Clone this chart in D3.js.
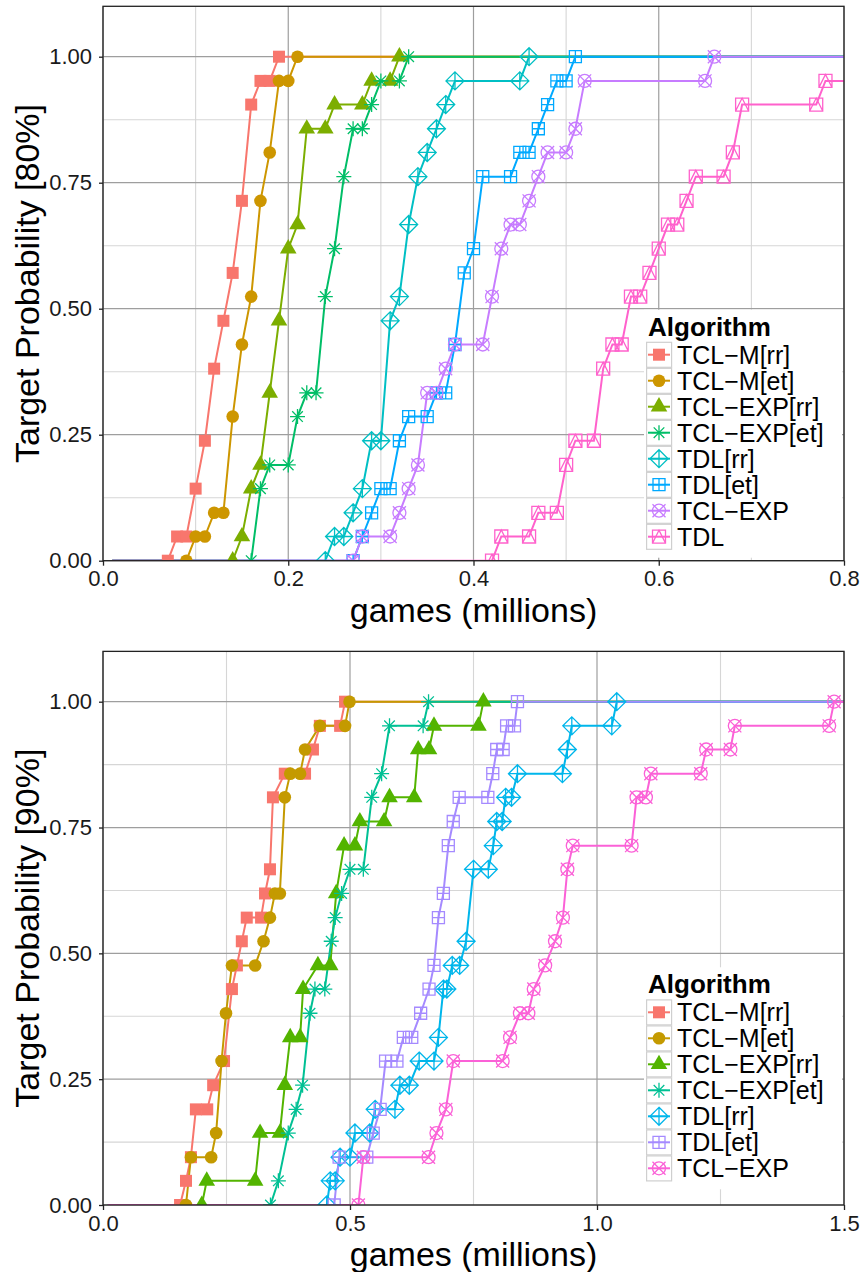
<!DOCTYPE html>
<html>
<head>
<meta charset="utf-8">
<script src="https://cdn.jsdelivr.net/npm/d3@7"></script>
<style>
  body { margin: 0; background: #fff; }
  svg { display: block; }
  text { font-family: 'Liberation Sans', Arial, Helvetica, sans-serif; }
</style>
</head>
<body>
<svg id="chart" width="864" height="1272"></svg>
<script>
// ---- top panel: target 80% (x = games in millions, y = target probability)
const topAlgorithms = ['TCL−M[rr]', 'TCL−M[et]', 'TCL−EXP[rr]', 'TCL−EXP[et]', 'TDL[rr]', 'TDL[et]', 'TCL−EXP', 'TDL'];
const topColors = ['#F8766D', '#CD9600', '#7CAE00', '#00BE67', '#00BFC4', '#00A9FF', '#C77CFF', '#FF61CC'];

const topTclmRr = [[0.07,0],[0.08,0.048],[0.09,0.048],[0.10,0.143],[0.11,0.238],[0.12,0.381],[0.13,0.476],[0.14,0.571],[0.15,0.714],[0.16,0.905],[0.17,0.952],[0.18,0.952],[0.19,1]];
const topTclmEt = [[0.09,0],[0.10,0.048],[0.11,0.048],[0.12,0.095],[0.13,0.095],[0.14,0.286],[0.15,0.429],[0.16,0.524],[0.17,0.714],[0.18,0.810],[0.19,0.952],[0.20,0.952],[0.21,1]];
const topTclexpRr = [[0.14,0],[0.15,0.048],[0.16,0.143],[0.17,0.190],[0.18,0.333],[0.19,0.476],[0.20,0.619],[0.21,0.667],[0.22,0.857],[0.24,0.857],[0.25,0.905],[0.28,0.905],[0.29,0.952],[0.31,0.952],[0.32,1]];
const topTclexpEt = [[0.16,0],[0.17,0.143],[0.18,0.190],[0.20,0.190],[0.21,0.286],[0.22,0.333],[0.23,0.333],[0.24,0.524],[0.25,0.619],[0.26,0.762],[0.27,0.857],[0.28,0.857],[0.29,0.905],[0.30,0.952],[0.32,0.952],[0.33,1]];
const topTdlRr = [[0.24,0],[0.25,0.048],[0.26,0.048],[0.27,0.095],[0.28,0.143],[0.29,0.238],[0.30,0.238],[0.31,0.476],[0.32,0.524],[0.33,0.667],[0.34,0.762],[0.35,0.810],[0.36,0.857],[0.37,0.905],[0.38,0.952],[0.45,0.952],[0.46,1]];
const topTdlEt = [[0.27,0],[0.28,0.048],[0.29,0.095],[0.30,0.143],[0.31,0.143],[0.32,0.238],[0.33,0.286],[0.35,0.286],[0.36,0.333],[0.37,0.333],[0.38,0.429],[0.39,0.571],[0.40,0.619],[0.41,0.762],[0.44,0.762],[0.45,0.810],[0.46,0.810],[0.47,0.857],[0.48,0.905],[0.49,0.952],[0.50,0.952],[0.51,1]];
const topTclexp = [[0.27,0],[0.28,0.048],[0.31,0.048],[0.32,0.095],[0.33,0.143],[0.34,0.190],[0.35,0.333],[0.36,0.333],[0.37,0.381],[0.38,0.429],[0.41,0.429],[0.42,0.524],[0.43,0.619],[0.44,0.667],[0.45,0.667],[0.46,0.714],[0.47,0.762],[0.48,0.810],[0.50,0.810],[0.51,0.857],[0.52,0.952],[0.65,0.952],[0.66,1]];
const topTdl = [[0.42,0],[0.43,0.048],[0.46,0.048],[0.47,0.095],[0.49,0.095],[0.50,0.190],[0.51,0.238],[0.53,0.238],[0.54,0.381],[0.55,0.429],[0.56,0.429],[0.57,0.524],[0.58,0.524],[0.59,0.571],[0.60,0.619],[0.61,0.667],[0.62,0.667],[0.63,0.714],[0.64,0.762],[0.67,0.762],[0.68,0.810],[0.69,0.905],[0.77,0.905],[0.78,0.952],[0.86,0.952],[0.87,1]];

const topXTicks = [0, 0.2, 0.4, 0.6, 0.8];
const topXMinor = [0.1, 0.3, 0.5, 0.7];

// ---- bottom panel: target 90%
const bottomAlgorithms = ['TCL−M[rr]', 'TCL−M[et]', 'TCL−EXP[rr]', 'TCL−EXP[et]', 'TDL[rr]', 'TDL[et]', 'TCL−EXP'];
const bottomColors = ['#F8766D', '#C49A00', '#53B400', '#00C094', '#00B6EB', '#A58AFF', '#FB61D7'];

const botTclmRr = [[0.156,0],[0.168,0.048],[0.178,0.095],[0.188,0.190],[0.211,0.190],[0.223,0.238],[0.245,0.286],[0.261,0.429],[0.271,0.476],[0.281,0.524],[0.291,0.571],[0.320,0.571],[0.328,0.619],[0.338,0.667],[0.344,0.810],[0.368,0.857],[0.409,0.857],[0.425,0.905],[0.439,0.952],[0.480,0.952],[0.490,1]];
const botTclmEt = [[0.168,0],[0.178,0.095],[0.219,0.095],[0.229,0.143],[0.240,0.286],[0.249,0.381],[0.261,0.476],[0.308,0.476],[0.325,0.524],[0.338,0.571],[0.348,0.619],[0.358,0.619],[0.368,0.810],[0.379,0.857],[0.399,0.857],[0.409,0.905],[0.439,0.952],[0.490,0.952],[0.499,1]];
const botTclexpRr = [[0.200,0],[0.210,0.048],[0.308,0.048],[0.318,0.143],[0.358,0.143],[0.368,0.238],[0.379,0.333],[0.399,0.333],[0.405,0.429],[0.435,0.476],[0.460,0.476],[0.472,0.619],[0.488,0.714],[0.510,0.714],[0.520,0.762],[0.569,0.762],[0.580,0.810],[0.630,0.810],[0.638,0.905],[0.660,0.905],[0.670,0.952],[0.760,0.952],[0.770,1]];
const botTclexpEt = [[0.339,0],[0.355,0.048],[0.375,0.143],[0.391,0.190],[0.404,0.238],[0.419,0.381],[0.429,0.429],[0.449,0.429],[0.462,0.524],[0.470,0.571],[0.483,0.619],[0.500,0.667],[0.527,0.667],[0.544,0.810],[0.564,0.857],[0.580,0.952],[0.648,0.952],[0.659,1]];
const botTdlRr = [[0.453,0],[0.460,0.048],[0.470,0.048],[0.480,0.095],[0.500,0.095],[0.510,0.143],[0.540,0.143],[0.551,0.190],[0.591,0.190],[0.601,0.238],[0.620,0.238],[0.640,0.286],[0.670,0.286],[0.679,0.333],[0.689,0.429],[0.696,0.429],[0.707,0.476],[0.722,0.476],[0.735,0.524],[0.750,0.667],[0.780,0.667],[0.790,0.714],[0.797,0.762],[0.808,0.762],[0.815,0.810],[0.827,0.810],[0.839,0.857],[0.930,0.857],[0.940,0.905],[0.949,0.952],[1.030,0.952],[1.040,1]];
const botTdlEt = [[0.468,0],[0.478,0.095],[0.534,0.095],[0.547,0.143],[0.561,0.190],[0.572,0.286],[0.595,0.286],[0.608,0.333],[0.625,0.333],[0.643,0.381],[0.660,0.429],[0.670,0.476],[0.679,0.571],[0.689,0.619],[0.699,0.714],[0.709,0.762],[0.721,0.810],[0.779,0.810],[0.789,0.857],[0.797,0.905],[0.810,0.905],[0.817,0.952],[0.833,0.952],[0.839,1]];
const botTclexp = [[0.517,0],[0.527,0.095],[0.659,0.095],[0.675,0.143],[0.694,0.190],[0.709,0.286],[0.809,0.286],[0.824,0.333],[0.844,0.381],[0.861,0.381],[0.872,0.429],[0.895,0.476],[0.915,0.524],[0.931,0.571],[0.940,0.667],[0.951,0.714],[1.070,0.714],[1.080,0.810],[1.099,0.810],[1.109,0.857],[1.210,0.857],[1.221,0.905],[1.270,0.905],[1.279,0.952],[1.470,0.952],[1.480,1]];

const bottomXTicks = [0, 0.5, 1.0, 1.5];
const bottomXMinor = [0.25, 0.75, 1.25];

const yTicks = [0, 0.25, 0.5, 0.75, 1];
const yMinor = [0.125, 0.375, 0.625, 0.875];
const shapes = ['square', 'circle', 'triangle', 'asterisk', 'diamondPlus', 'squarePlus', 'circleCross', 'squareTriangle'];

// lines start a bit right of zero and run off the panel at 1.0
const lineStartX = 0.01;

const svg = d3.select('#chart');
const FONT_TICK = 22;
const FONT_TITLE = 34;
const FONT_LEGEND = 25;

function drawShape(g, shape, color) {
  const sw = 1.3;
  switch (shape) {
    case 'square':
      g.append('rect').attr('x', -6).attr('y', -6).attr('width', 12).attr('height', 12).attr('fill', color);
      break;
    case 'circle':
      g.append('circle').attr('r', 6.3).attr('fill', color);
      break;
    case 'triangle':
      g.append('path').attr('d', 'M0,-9.6L8.3,4.8L-8.3,4.8Z').attr('fill', color);
      break;
    case 'asterisk':
      g.append('path').attr('d', 'M-7.5,0H7.5M0,-7.5V7.5M-5.3,-5.3L5.3,5.3M-5.3,5.3L5.3,-5.3')
        .attr('fill', 'none').attr('stroke', color).attr('stroke-width', sw);
      break;
    case 'diamondPlus':
      g.append('path').attr('d', 'M0,-9L9,0L0,9L-9,0ZM-9,0H9M0,-9V9')
        .attr('fill', 'none').attr('stroke', color).attr('stroke-width', sw);
      break;
    case 'squarePlus':
      g.append('path').attr('d', 'M-6,-6H6V6H-6ZM-6,0H6M0,-6V6')
        .attr('fill', 'none').attr('stroke', color).attr('stroke-width', sw);
      break;
    case 'circleCross':
      g.append('circle').attr('r', 6.5).attr('fill', 'none').attr('stroke', color).attr('stroke-width', sw);
      g.append('path').attr('d', 'M-6.5,-6.5L6.5,6.5M-6.5,6.5L6.5,-6.5')
        .attr('fill', 'none').attr('stroke', color).attr('stroke-width', sw);
      break;
    case 'squareTriangle':
      g.append('path').attr('d', 'M-6.5,-6.5H6.5V6.5H-6.5ZM-6.5,6.5L0,-6.5L6.5,6.5')
        .attr('fill', 'none').attr('stroke', color).attr('stroke-width', sw);
      break;
  }
}

function drawPanel(cfg) {
  const left = 103, right = 844;
  const x = d3.scaleLinear().domain([0, cfg.xMax]).range([left, right]);
  const y = d3.scaleLinear().domain([0, 1.1]).range([cfg.y0, cfg.y0 - 1.1 * cfg.unit]);
  const top = y(1.1), bottom = y(0);

  const panel = svg.append('g');
  panel.append('rect').attr('x', left).attr('y', top).attr('width', right - left).attr('height', bottom - top).attr('fill', '#fff');

  // grid
  panel.selectAll('.gminx').data(cfg.xMinor).enter().append('line')
    .attr('x1', d => x(d)).attr('x2', d => x(d)).attr('y1', top).attr('y2', bottom)
    .attr('stroke', '#d6d6d6').attr('stroke-width', 1.1);
  panel.selectAll('.gminy').data(yMinor).enter().append('line')
    .attr('x1', left).attr('x2', right).attr('y1', d => y(d)).attr('y2', d => y(d))
    .attr('stroke', '#d6d6d6').attr('stroke-width', 1.1);
  panel.selectAll('.gmajx').data(cfg.xTicks).enter().append('line')
    .attr('x1', d => x(d)).attr('x2', d => x(d)).attr('y1', top).attr('y2', bottom)
    .attr('stroke', '#9e9e9e').attr('stroke-width', 1.2);
  panel.selectAll('.gmajy').data(yTicks).enter().append('line')
    .attr('x1', left).attr('x2', right).attr('y1', d => y(d)).attr('y2', d => y(d))
    .attr('stroke', '#9e9e9e').attr('stroke-width', 1.2);

  const clipId = 'clip-' + cfg.id;
  svg.append('clipPath').attr('id', clipId).append('rect')
    .attr('x', left).attr('y', top).attr('width', right - left).attr('height', bottom - top);
  const plot = panel.append('g').attr('clip-path', `url(#${clipId})`);

  const line = d3.line().x(d => x(d[0])).y(d => y(d[1]));
  cfg.series.forEach((s, i) => {
    const path = [[lineStartX, 0], ...s, [cfg.xMax + 0.2, 1]];
    plot.append('path').attr('d', line(path)).attr('fill', 'none')
      .attr('stroke', cfg.colors[i]).attr('stroke-width', 2);
  });
  cfg.series.forEach((s, i) => {
    plot.selectAll(null).data(s).enter().append('g')
      .attr('transform', d => `translate(${x(d[0])},${y(d[1])})`)
      .each(function () { drawShape(d3.select(this), shapes[i], cfg.colors[i]); });
  });

  // legend
  const lg = panel.append('g');
  lg.append('rect').attr('x', 644).attr('y', cfg.legendTop - 32).attr('width', 198)
    .attr('height', cfg.algorithms.length * 26 + 40).attr('fill', '#fff');
  lg.append('text').attr('x', 648).attr('y', cfg.legendTop - 6).attr('font-size', 26)
    .attr('font-weight', 'bold').attr('fill', '#000').text('Algorithm');
  const rows = lg.selectAll('.row').data(cfg.algorithms).enter().append('g')
    .attr('transform', (d, i) => `translate(646,${cfg.legendTop + i * 26})`);
  rows.append('rect').attr('x', 0.6).attr('y', 0.6).attr('width', 25).attr('height', 25)
    .attr('fill', '#fff').attr('stroke', '#cfcfcf').attr('stroke-width', 1.2);
  rows.append('line').attr('x1', 2).attr('x2', 24).attr('y1', 13).attr('y2', 13)
    .attr('stroke', (d, i) => cfg.colors[i]).attr('stroke-width', 2);
  rows.append('g').attr('transform', 'translate(13,13)')
    .each(function (d, i) { drawShape(d3.select(this), shapes[i], cfg.colors[i]); });
  rows.append('text').attr('x', 31).attr('y', 22).attr('font-size', FONT_LEGEND)
    .attr('fill', '#000').text(d => d);

  // border
  panel.append('rect').attr('x', left).attr('y', top).attr('width', right - left).attr('height', bottom - top)
    .attr('fill', 'none').attr('stroke', '#222').attr('stroke-width', 1.3);

  // axes
  const xAxis = panel.append('g').attr('transform', `translate(0,${bottom})`)
    .call(d3.axisBottom(x).tickValues(cfg.xTicks).tickFormat(d3.format('.1f')).tickSize(5).tickPadding(5));
  const yAxis = panel.append('g').attr('transform', `translate(${left},0)`)
    .call(d3.axisLeft(y).tickValues(yTicks).tickFormat(d3.format('.2f')).tickSize(4).tickPadding(7));
  [xAxis, yAxis].forEach(a => {
    a.select('.domain').remove();
    a.selectAll('.tick line').attr('stroke', '#222').attr('stroke-width', 1.3);
    a.selectAll('.tick text').attr('font-size', FONT_TICK).attr('fill', '#1a1a1a')
      .attr('font-family', "'Liberation Sans', Arial, sans-serif");
  });

  panel.append('text').attr('x', (left + right) / 2).attr('y', bottom + 61)
    .attr('text-anchor', 'middle').attr('font-size', FONT_TITLE).attr('fill', '#000')
    .text('games (millions)');
  panel.append('text').attr('transform', `translate(39,${(top + bottom) / 2}) rotate(-90)`)
    .attr('text-anchor', 'middle').attr('font-size', FONT_TITLE).attr('fill', '#000')
    .text(cfg.yTitle);
}

drawPanel({
  id: 'top', y0: 560.7, unit: 504, xMax: 0.8,
  xTicks: topXTicks, xMinor: topXMinor,
  yTitle: 'Target Probability [80%]',
  algorithms: topAlgorithms, colors: topColors,
  series: [topTclmRr, topTclmEt, topTclexpRr, topTclexpEt, topTdlRr, topTdlEt, topTclexp, topTdl],
  legendTop: 341.7
});

drawPanel({
  id: 'bottom', y0: 1205, unit: 503.3, xMax: 1.5,
  xTicks: bottomXTicks, xMinor: bottomXMinor,
  yTitle: 'Target Probability [90%]',
  algorithms: bottomAlgorithms, colors: bottomColors,
  series: [botTclmRr, botTclmEt, botTclexpRr, botTclexpEt, botTdlRr, botTdlEt, botTclexp],
  legendTop: 999.3
});
</script>
</body>
</html>
